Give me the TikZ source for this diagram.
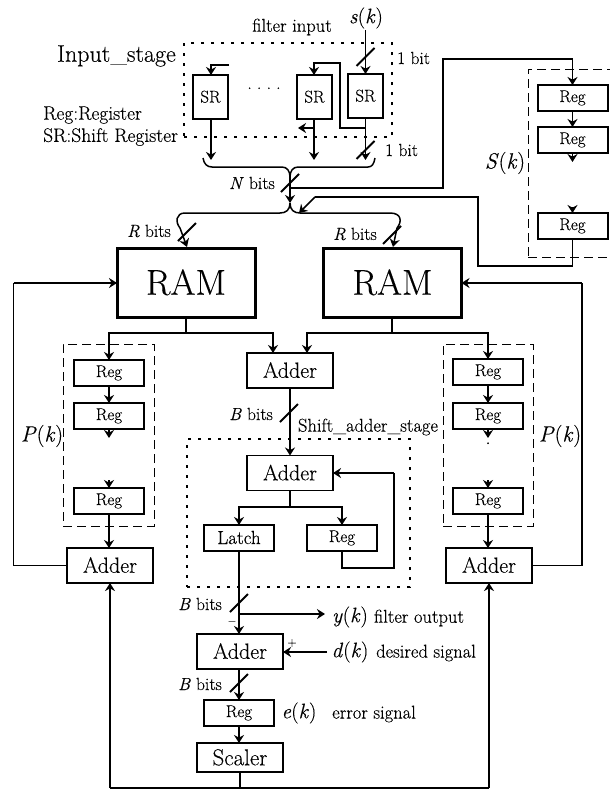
\documentclass[tikz,border=0pt]{standalone}
\usepackage{fontspec}
\setmainfont{Latin Modern Roman}[FakeBold=0.25]
\usetikzlibrary{arrows.meta}
\newcommand{\fs}[1]{\fontsize{#1}{#1}\selectfont}
\newcommand{\ik}[2]{\textit{#1}(\textit{#2})}
\tikzset{
  boxbase/.style={draw=black,fill=white,inner sep=0pt,outer sep=0pt,align=center},
  srbox/.style={boxbase,line width=2pt,minimum width=35pt,minimum height=44pt,font=\fs{17},text height=11.5pt,text depth=0.5pt},
  regbox/.style={boxbase,line width=2pt,minimum width=70pt,minimum height=26pt,font=\fs{17},text height=11.5pt,text depth=3.5pt},
  latchbox/.style={regbox,font=\fs{19},text height=12.5pt,text depth=0.5pt},
  adderbox/.style={boxbase,line width=1.7pt,minimum width=86pt,minimum height=35pt,font=\fs{22},text height=15pt,text depth=0.5pt},
  scalerbox/.style={boxbase,line width=2.2pt,minimum width=86pt,minimum height=29pt,font=\fs{23},text height=16pt,text depth=0.5pt},
  rambox/.style={boxbase,line width=3pt,minimum width=138pt,minimum height=69pt,font=\fs{36},text height=25pt,text depth=0.5pt},
  dashbox/.style={draw=black,line width=1pt,dash pattern=on 9pt off 5pt,inner sep=0pt},
  dotbox/.style={draw=black,line width=2pt,dash pattern=on 3pt off 7pt,inner sep=0pt},
  lab/.style={inner sep=0pt,font=\fs{18.5}},
  bitlab/.style={inner sep=0pt,font=\fs{17.5}},
  keylab/.style={inner sep=0pt,font=\fs{19.5}},
  sym/.style={inner sep=0pt,font=\fs{21}},
  wire/.style={line width=1.5pt},
  arr/.style={line width=1.5pt,-{Stealth[length=8pt,width=10pt]}},
  bar/.style={line width=1.8pt}
}
\newcommand{\slashat}[1]{\draw[bar] ([shift={(-9,9)}]#1) -- ([shift={(9,-9)}]#1);}
\begin{document}
\begin{tikzpicture}[x=1pt,y=-1pt]
\useasboundingbox (0,0) rectangle (610,790);
% dashed and dotted groups
\node[dotbox,minimum width=208pt,minimum height=94pt] (inbox) at (288,90) {};
\node[dotbox,minimum width=223pt,minimum height=148pt] (shiftbox) at (298.5,513) {};
\node[dashbox,minimum width=90pt,minimum height=188pt] (sgroup) at (573,163) {};
\node[dashbox,minimum width=91pt,minimum height=182pt] (pleft) at (108.5,435) {};
\node[dashbox,minimum width=90pt,minimum height=182pt] (pright) at (488,435) {};
% free coordinates
\coordinate (sin) at (365.5,30);
\coordinate (p1) at (229,65);
\coordinate (c1) at (211,65);
\coordinate (t3) at (365.5,128);
\coordinate (t3a) at (340,128);
\coordinate (t3b) at (340,63);
\coordinate (c2) at (314,63);
\coordinate (t2) at (314,128);
\coordinate (t2e) at (298,128);
\coordinate (e1) at (211,160);
\coordinate (e2) at (314,160);
\coordinate (e3) at (365.5,160);
\coordinate (bl) at (203,158);
\coordinate (br) at (375,158);
\coordinate (bl2) at (212,167);
\coordinate (bl3) at (282,167);
\coordinate (br2) at (368,167);
\coordinate (br3) at (298,167);
\coordinate (j1) at (290,177);
\coordinate (j2) at (290,203);
\coordinate (nb) at (290,188);
\coordinate (up) at (443,59);
\coordinate (scorn) at (572.5,59);
\coordinate (up0) at (443,188);
\coordinate (sstub1) at (572.5,162);
\coordinate (sstub2) at (572.5,207);
\coordinate (sd) at (572.5,266);
\coordinate (sl) at (478,266);
\coordinate (su) at (478,197);
\coordinate (sk) at (315,197);
\coordinate (sh) at (299,213);
\coordinate (tl) at (185,213);
\coordinate (tr) at (390,213);
\coordinate (tl2) at (180,228);
\coordinate (tr2) at (397,228);
\coordinate (lt) at (187,247);
\coordinate (rt) at (393,247);
\coordinate (m1) at (186,333);
\coordinate (m2) at (392,333);
\coordinate (lstub1) at (109,438);
\coordinate (lstub2) at (109,480);
\coordinate (rstub1) at (488,438);
\coordinate (rstub2) at (488,480);
\coordinate (fbl) at (13.5,283);
\coordinate (fbr) at (582,283);
\coordinate (m3) at (290,507);
\coordinate (fa) at (394,473);
\coordinate (fb) at (394,568);
\coordinate (fc) at (343,568);
\coordinate (ytap) at (239,614);
\coordinate (yout) at (325,614);
\coordinate (din) at (327,652);
\coordinate (bot) at (240,788);
\coordinate (botl) at (110,788);
\coordinate (botr) at (489,788);
\coordinate (sl1) at (365.5,57);
\coordinate (sl2) at (365.5,150);
\coordinate (sl3) at (290,183);
\coordinate (sl4) at (187,232);
\coordinate (sl5) at (392,235);
\coordinate (sl6) at (289,413);
\coordinate (sl7) at (239,603);
\coordinate (sl8) at (239,683);
% shift registers
\node[srbox] (sr1) at (210.5,97) {SR};
\node[srbox] (sr2) at (314.5,97) {SR};
\node[srbox] (sr3) at (365.5,96) {SR};
% S(k) regs
\node[regbox] (sa) at (572.5,98) {Reg};
\node[regbox] (sb) at (572.5,140) {Reg};
\node[regbox] (sc) at (572.5,226) {Reg};
% RAMs
\node[rambox] (ram1) at (186,282.5) {RAM};
\node[rambox] (ram2) at (392.5,282.5) {RAM};
% left/right P(k) regs
\node[regbox] (la) at (109,373) {Reg};
\node[regbox] (lb) at (109,416) {Reg};
\node[regbox] (lc) at (109,501) {Reg};
\node[regbox] (ra) at (488,372) {Reg};
\node[regbox] (rb) at (488,416) {Reg};
\node[regbox] (rc) at (488,501) {Reg};
% centre chain
\node[adderbox] (add1) at (290,370.5) {Adder};
\node[adderbox] (add2) at (290,473) {Adder};
\node[latchbox] (latch) at (239,538) {Latch};
\node[regbox] (reg2) at (342,538) {Reg};
\node[adderbox] (addl) at (110,565.5) {Adder};
\node[adderbox] (addr) at (489,565.5) {Adder};
\node[adderbox] (add3) at (240,651.5) {Adder};
\node[regbox] (reg3) at (239,713) {Reg};
\node[scalerbox] (scaler) at (240,757.5) {Scaler};
% input stage wiring
\draw[arr] (sin) -- (sr3.north);
\draw[arr] (p1) -- (c1) -- (c1 |- sr1.north);
\draw[arr] (t3) -- (t3a) -- (t3b) -- (c2) -- (c2 |- sr2.north);
\draw[arr] (t2) -- (t2e);
\draw[arr] (c1 |- sr1.south) -- (e1);
\draw[arr] (c2 |- sr2.south) -- (e2);
\draw[arr] (sr3.south) -- (e3);
\draw[wire] (bl) .. controls (204,164) and (207,167) .. (bl2) -- (bl3) .. controls (287,167) and (290,171) .. (j1);
\draw[wire] (br) .. controls (374,164) and (372,167) .. (br2) -- (br3) .. controls (293,167) and (290,171) .. (j1);
\draw[arr] (j1) -- (j2);
\draw[wire] (nb) -- (up0) -- (up) -- (scorn);
\draw[arr] (scorn) -- (sa.north);
\draw[arr] (sa.south) -- (sb.north);
\draw[arr] (sb.south) -- (sstub1);
\draw[arr] (sstub2) -- (sc.north);
\draw[wire] (sc.south) -- (sd) -- (sl) -- (su) -- (sk);
\draw[arr] (sk) -- (sh);
\draw[wire] (j2) .. controls (290,210) and (286,213) .. (280,213) -- (tl) .. controls (176,213) and (175,222) .. (tl2);
\draw[arr] (tl2) -- (lt);
\draw[wire] (j2) .. controls (290,210) and (294,213) .. (300,213) -- (tr) .. controls (402,213) and (402,222) .. (tr2);
\draw[arr] (tr2) -- (rt);
% RAM outputs
\draw[wire] (ram1.south) -- (m1);
\draw[arr] (m1) -| (la.north);
\draw[arr] (m1) -| ([xshift=-17pt]add1.north);
\draw[wire] (m2 |- ram2.south) -- (m2);
\draw[arr] (m2) -| ([xshift=17pt]add1.north);
\draw[arr] (m2) -| (ra.north);
% P(k) chains
\draw[arr] (la.south) -- (lb.north);
\draw[arr] (lb.south) -- (lstub1);
\draw[arr] (lstub2) -- (lc.north);
\draw[arr] (ra.south) -- (rb.north);
\draw[arr] (rb.south) -- (rstub1);
\draw[arr] (rstub2) -- (rc.north);
\draw[arr] (lc.south) -- (lc.south |- addl.north);
\draw[arr] (rc.south) -- (rc.south |- addr.north);
% feedback
\draw[wire] (addl.west) -- (fbl |- addl.west) -- (fbl);
\draw[arr] (fbl) -- (ram1.west |- fbl);
\draw[wire] (addr.east) -- (fbr |- addr.east) -- (fbr);
\draw[arr] (fbr) -- (ram2.east |- fbr);
% centre wiring
\draw[arr] (add1.south) -- (add2.north);
\draw[wire] (add2.south) -- (m3);
\draw[arr] (m3) -| (latch.north);
\draw[arr] (m3) -| (reg2.north);
\draw[wire] (reg2.south) -- (reg2.south |- fc) -- (fc -| fb) -- (fa);
\draw[arr] (fa) -- (add2.east);
\draw[arr] (latch.south) -- (latch.south |- add3.north);
\draw[arr] (ytap) -- (yout);
\draw[arr] (din) -- (add3.east |- din);
\draw[arr] (add3.south -| reg3.north) -- (reg3.north);
\draw[arr] (reg3.south) -- (scaler.north -| reg3.south);
\draw[wire] (scaler.south) -- (bot);
\draw[wire] (botl) -- (botr);
\draw[arr] (botl) -- (addl.south);
\draw[arr] (botr) -- (addr.south);
% bus marks
\slashat{sl1}
\slashat{sl2}
\slashat{sl3}
\slashat{sl4}
\slashat{sl5}
\slashat{sl6}
\slashat{sl7}
\slashat{sl8}
% labels
\node[sym] (lsk) at (366,18) {\ik{s}{k}};
\node[lab] (lfi) at (292,27) {filter input};
\node[bitlab,anchor=west] (l1a) at (397,58) {1 bit};
\node[bitlab,anchor=west] (l1b) at (385,150) {1 bit};
\node[inner sep=0pt,font=\fs{24},anchor=east] (lis) at (176,56) {Input\_stage};
\node[keylab,anchor=west] (lrr) at (43,115) {Reg:Register};
\node[keylab,anchor=west] (lsr) at (43,137) {SR:Shift Register};
\node[lab,anchor=base] (ldots) at (264,89) {.\hspace{5pt}.\hspace{5pt}.\hspace{5pt}.};
\node[bitlab] (lnb) at (252,183) {\textit{N} bits};
\node[bitlab] (lrb1) at (149,231) {\textit{R} bits};
\node[bitlab] (lrb2) at (355,234) {\textit{R} bits};
\node[sym,font=\fs{22}] (lsk2) at (505,163) {\textit{S}(\textit{k})};
\node[sym,font=\fs{22}] (lpk1) at (42,436) {\ik{P}{k}};
\node[sym,font=\fs{22}] (lpk2) at (560,436) {\ik{P}{k}};
\node[bitlab] (lbb1) at (251,414) {\textit{B} bits};
\node[lab] (lsas) at (368,427) {Shift\_adder\_stage};
\node[bitlab] (lbb2) at (200,604) {\textit{B} bits};
\node[bitlab] (lbb3) at (200,684) {\textit{B} bits};
\node[sym] (lyk) at (350,617) {\ik{y}{k}};
\node[lab] (lfo) at (419,618) {filter output};
\node[lab,font=\fs{14}] (lminus) at (232,623) {--};
\node[lab,font=\fs{12}] (lplus) at (292,643) {+};
\node[sym] (ldk) at (350,652) {\ik{d}{k}};
\node[lab] (lds) at (426,653) {desired signal};
\node[sym] (lek) at (299,713) {\ik{e}{k}};
\node[lab] (les) at (374,714) {error signal};
\node[lab,anchor=base] (lrdot) at (488,444) {.};
\end{tikzpicture}
\end{document}
